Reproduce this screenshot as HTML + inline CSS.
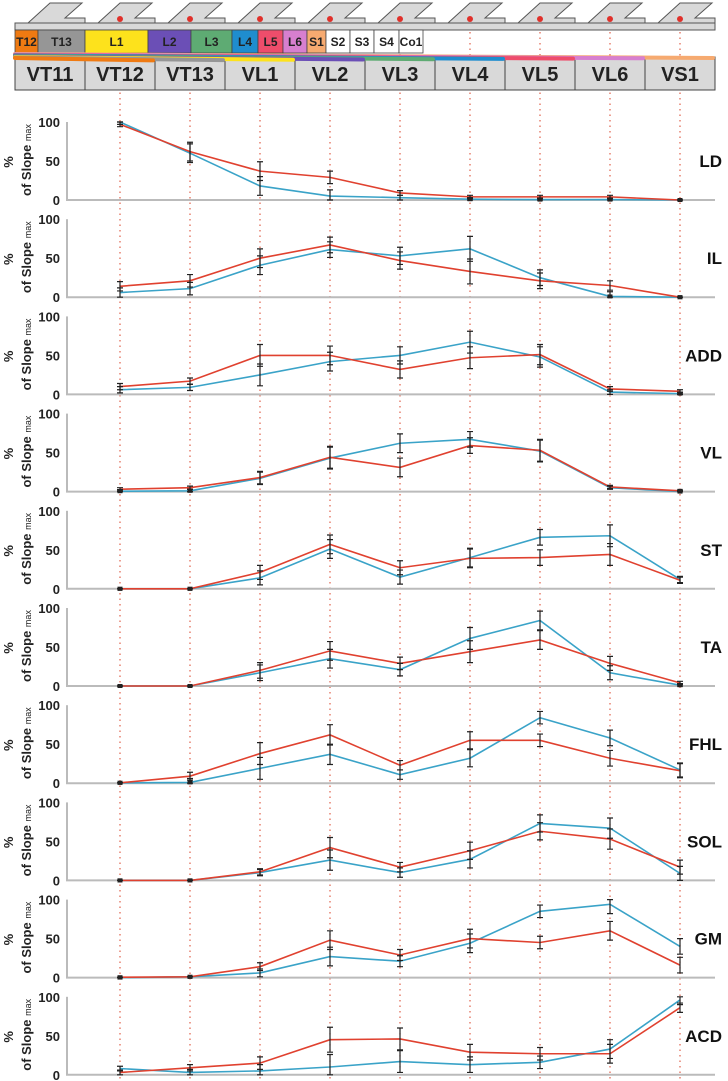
<!DOCTYPE html>
<html><head><meta charset="utf-8"><style>
body{margin:0;background:#fff}
svg{display:block;font-family:"Liberation Sans",sans-serif}
</style></head><body>
<svg id="chart" width="728" height="1081" viewBox="0 0 728 1081" xmlns="http://www.w3.org/2000/svg">
<g id="header"></g>
<g id="panels"></g>
</svg>
<script>
const vertebrae = ["VT11","VT12","VT13","VL1","VL2","VL3","VL4","VL5","VL6","VS1"];
const segments = [["T12",23,"#ef7a12","#222"],["T13",47,"#969696","#222"],["L1",63,"#fde21c","#222"],["L2",43,"#6b4fb6","#222"],["L3",41,"#5eab73","#222"],["L4",26,"#1f8dce","#222"],["L5",25,"#ee4d6b","#222"],["L6",24,"#d77fcf","#222"],["S1",19,"#f6aa70","#222"],["S2",24,"#fff","#222"],["S3",24,"#fff","#222"],["S4",25,"#fff","#222"],["Co1",24,"#fff","#222"]];
const cordColors = ["#f6aa70","#d77fcf","#ee4d6b","#1f8dce","#5eab73","#6b4fb6","#fde21c","#969696","#ef7a12"];
const cordEnds = ["VS1","VL6","VL5","VL4","VL3","VL2","VL1","VT13","VT12"];

const positions = ["VT12","VT13","VL1","VL2","VL3","VL4","VL5","VL6","VS1"];
const muscles = ["LD","IL","ADD","VL","ST","TA","FHL","SOL","GM","ACD"];
const yTicks = [0,50,100];
const blueLD=[100,60,18,5,3,1,0.5,0.5,0], redLD=[97,62,37,29,9,4,4,4,0];
const blueIL=[6,11,41,61,53,62,25,1,0], redIL=[14,21,50,67,47,33,21,15,0];
const blueADD=[6,9,25,42,50,67,48,3,1], redADD=[10,17,50,50,32,47,51,7,4];
const blueVL=[0.5,1,17,43,62,67,52,5,0], redVL=[3,5,18,44,31,59,53,6,1];
const blueST=[0,0,14,51,15,40,66,68,12], redST=[0,0,21,57,27,39,40,44,11];
const blueTA=[0,0,17,35,21,61,84,17,1], redTA=[0,0,20,45,29,44,59,29,4];
const blueFHL=[0.5,1,19,37,11,32,84,58,17], redFHL=[0.5,9,38,62,23,55,55,32,16];
const blueSOL=[0,0,10,26,10,27,73,67,9], redSOL=[0,0,11,42,17,38,63,53,17];
const blueGM=[0,1,6,27,21,44,85,94,40], redGM=[0.5,1,14,48,29,50,45,60,16];
const blueACD=[8,3,5,10,17,13,16,33,96], redACD=[3,9,15,45,46,29,27,27,86];
const errLD=[3,12,12,8,3,2,2,2,0], errIL=[6,8,12,10,11,16,10,6,0], errADD=[4,4,14,12,11,14,13,3,2];
const errVL=[2,2,8,14,12,10,14,2,1], errST=[0,0,9,12,9,12,10,14,4], errTA=[0,0,10,12,8,14,12,9,2];
const errFHL=[0,5,14,13,6,11,8,10,9], errSOL=[0,0,4,13,6,11,11,13,9], errGM=[0,0,5,12,7,12,8,12,10], errACD=[3,4,8,16,14,10,8,12,6];
const blues=[blueLD,blueIL,blueADD,blueVL,blueST,blueTA,blueFHL,blueSOL,blueGM,blueACD];
const reds=[redLD,redIL,redADD,redVL,redST,redTA,redFHL,redSOL,redGM,redACD];
const errs=[errLD,errIL,errADD,errVL,errST,errTA,errFHL,errSOL,errGM,errACD];

const NS="http://www.w3.org/2000/svg";
function mk(tag,attrs,parent){const e=document.createElementNS(NS,tag);for(const k in attrs)e.setAttribute(k,attrs[k]);parent.appendChild(e);return e;}
const colX=i=>15+70*i;
const xPos=name=>colX(vertebrae.indexOf(name))+35;
const axisY=p=>200+p*97.2;
const yScale=(p,v)=>axisY(p)-v*0.78;

const H=document.getElementById('header');
// top tabs
for(let i=0;i<10;i++){
  const L=colX(i);
  const tab=mk('polygon',{points:`${L+13},23 ${L+35},3 ${L+67},3 ${L+50},18 ${L+70},18 ${L+70},23`,fill:'#d9d9d9',stroke:'#555','stroke-width':1},H);
  
  
}
const bar=mk('rect',{x:15,y:23,width:700,height:7,fill:'#d9d9d9',stroke:'#555','stroke-width':1},H);


// dotted lines
positions.forEach(p=>{
  const ln=mk('line',{x1:xPos(p),x2:xPos(p),y1:32,y2:1081,stroke:'#e0604a','stroke-width':1.2,'stroke-dasharray':'1.5,4'},H);
  
  
  const d=mk('circle',{cx:xPos(p),cy:19,r:3,fill:'#e0302a'},H);
  
  
});
// segment boxes
let sx=15;
segments.forEach(s=>{
  const r=mk('rect',{x:sx,y:30,width:s[1],height:23,fill:s[2],stroke:'#444','stroke-width':0.8},H);
  
  
  const t=mk('text',{x:sx+s[1]/2,y:46,'text-anchor':'middle','font-size':12,'font-weight':'bold',fill:s[3]},H);
  t.textContent=s[0];
  
  
  sx+=s[1];
});
// vertebra boxes
vertebrae.forEach((v,i)=>{
  const r=mk('rect',{x:colX(i),y:57,width:70,height:33,fill:'#d9d9d9',stroke:'#444','stroke-width':1},H);
  
  
  const t=mk('text',{x:colX(i)+35,y:81,'text-anchor':'middle','font-size':20,'font-weight':'bold',fill:'#222'},H);
  t.textContent=v;
  
  
});
// spinal cord root lines
cordEnds.forEach((e,k)=>{
  const ex=colX(vertebrae.indexOf(e))+68;
  const y0=54+k*0.5, y1=58+k*0.3;
  const l=mk('path',{d:`M15,${y0} L${ex},${y1}`,stroke:cordColors[k],'stroke-width':4,'stroke-linecap':'round',fill:'none'},H);
  
  
});

const P=document.getElementById('panels');
muscles.forEach((m,p)=>{
  const g=mk('g',{},P);
  
  
  const a0=axisY(p);
  const ya=mk('line',{x1:67,x2:67,y1:yScale(p,100),y2:a0,stroke:'#bbb','stroke-width':2},g);
  
  
  const xa=mk('line',{x1:66,x2:715,y1:a0,y2:a0,stroke:'#bbb','stroke-width':2},g);
  
  
  yTicks.forEach(v=>{
    const t=mk('text',{x:60,y:yScale(p,v)+5,'text-anchor':'end','font-size':13,'font-weight':'bold',fill:'#222'},g);
    t.textContent=v;
    
    
  });
  const cy=a0-40;
  const t1=mk('text',{x:0,y:0,transform:`translate(13,${cy+2}) rotate(-90)`,'text-anchor':'middle','font-size':13,'font-weight':'bold',fill:'#222'},g);
  t1.textContent='%';
  
  
  const t2=mk('text',{x:0,y:0,transform:`translate(31,${cy}) rotate(-90)`,'text-anchor':'middle','font-size':13,'font-weight':'bold',fill:'#222'},g);
  t2.innerHTML='of Slope <tspan font-size="9" font-weight="normal">max</tspan>';
  
  
  const ml=mk('text',{x:722,y:a0-33,'text-anchor':'end','font-size':17,'font-weight':'bold',fill:'#111'},g);
  ml.textContent=m;
  
  
  [[blues[p],'#3aa3c8'],[reds[p],'#e0412f']].forEach(([vals,col],si)=>{
    const pts=vals.map((v,i)=>xPos(positions[i])+','+yScale(p,v)).join(' ');
    const pl=mk('polyline',{points:pts,fill:'none',stroke:col,'stroke-width':1.6},g);
    
    
  });
  [blues[p],reds[p]].forEach(vals=>{
    vals.forEach((v,i)=>{
      const x=xPos(positions[i]), e=errs[p][i];
      const y1=yScale(p,Math.min(100,v+e)), y2=yScale(p,Math.max(0,v-e));
      const eb=mk('path',{d:`M${x},${y1}V${y2}M${x-3},${y1}H${x+3}M${x-3},${y2}H${x+3}`,stroke:'#222','stroke-width':1.2,fill:'none'},g);
      
      
      if(v<2){const sq=mk('rect',{x:x-2.5,y:yScale(p,v)-2,width:5,height:4,fill:'#222'},g);
        
        }
    });
  });
});
</script>
</body></html>
